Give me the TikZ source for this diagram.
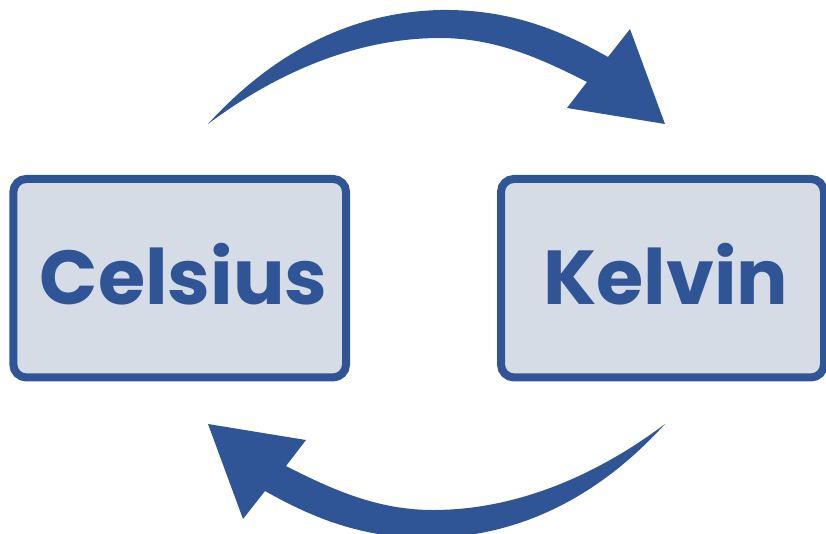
\documentclass[tikz,border=0pt]{standalone}
\usepackage{fontspec}
\setmainfont{Poppins}
\definecolor{myblue}{HTML}{2F5597}
\definecolor{myfill}{HTML}{D6DCE5}
\begin{document}
\begin{tikzpicture}[x=1pt,y=-1pt,
  unitbox/.style={draw=myblue, fill=myfill, line width=8pt, rounded corners=13pt,
    text=myblue, font=\fontsize{76.5}{76.5}\selectfont\bfseries,
    text height=53.5pt, text depth=0pt, inner sep=0pt},
  bigarrow/.style={fill=myblue, draw=none}]
\useasboundingbox (0,0) rectangle (826,533);
\node[unitbox, minimum width=332.7pt, minimum height=198.5pt] (c) at (179.7,278.2) {\hspace*{8pt}Celsius};
\node[unitbox, minimum width=323pt, minimum height=198.5pt] (k) at (662.5,278.2) {\hspace*{7pt}Kelvin};
\def\arrowshape{(208,124) .. controls (280,45) and (360,12) .. (440,10)
  .. controls (510,9) and (560,30) .. (608,57) -- (630,29) -- (665,124)
  -- (567,108) -- (587,82) .. controls (540,58) and (495,38) .. (440,38)
  .. controls (360,38) and (280,70) .. (208,124) -- cycle}
\fill[bigarrow] \arrowshape;
\fill[bigarrow, rotate around={180:(436.5,274)}] \arrowshape;
\end{tikzpicture}
\end{document}
